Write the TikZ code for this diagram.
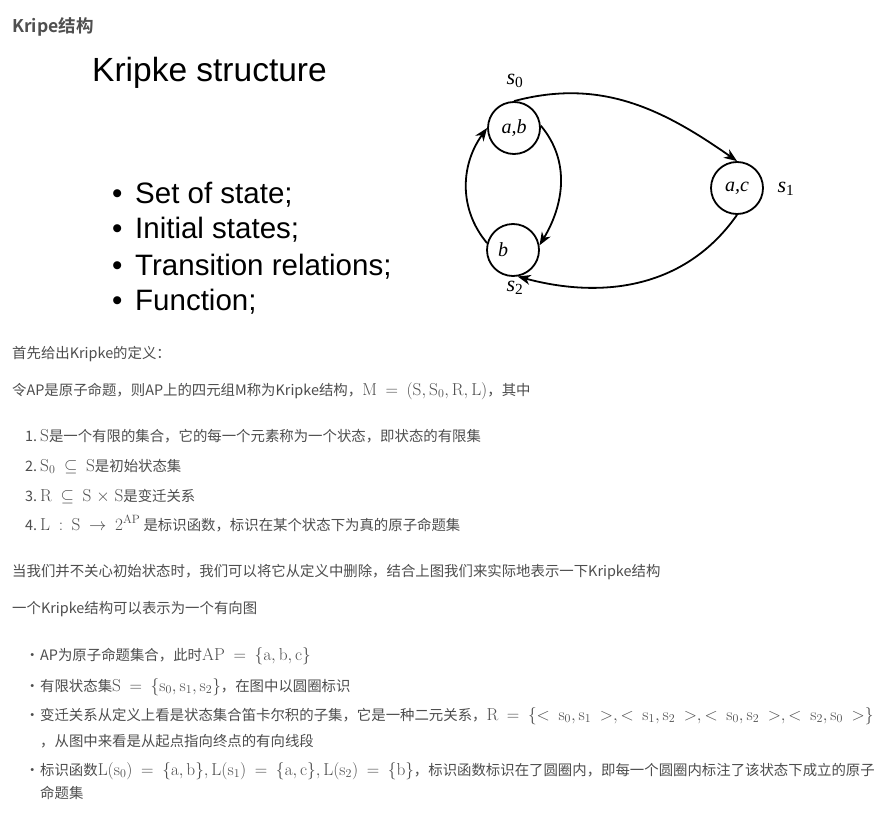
\documentclass[tikz,border=0pt]{standalone}
\usepackage[no-math]{fontspec}
\setmainfont{Noto Sans CJK SC}[BoldFont={Noto Sans CJK SC Bold}]
\newfontfamily\slidefont{Liberation Sans}
\newfontfamily\figfont{Liberation Serif}
\usetikzlibrary{arrows.meta}
\definecolor{bodytext}{HTML}{4D4D4D}
\definecolor{headtext}{HTML}{4F4F4F}
\newcommand\mth[1]{{\fontsize{16.5}{17}\selectfont\thickmuskip=9mu\medmuskip=5mu$\mathrm{#1}$}}

\begin{document}
\begin{tikzpicture}[
  x=1pt, y=1pt,
  state/.style={circle, draw, line width=1.8pt, minimum size=52pt, inner sep=0pt,
                font=\figfont\itshape\fontsize{20}{20}\selectfont},
  slabel/.style={inner sep=0pt, font=\figfont\fontsize{22}{22}\selectfont},
  trans/.style={-{Stealth[length=13pt, width=10pt, inset=4pt]}, line width=1.8pt},
  heading/.style={anchor=base west, inner sep=0pt, text=headtext,
                  font=\bfseries\fontsize{17.5}{18}\selectfont},
  slidetitle/.style={anchor=base west, inner sep=0pt, font=\slidefont\fontsize{33.5}{34}\selectfont},
  slideitem/.style={anchor=base west, inner sep=0pt, font=\slidefont\fontsize{29.5}{30}\selectfont},
  body/.style={anchor=base west, inner sep=0pt, text=bodytext, font=\fontsize{14.4}{14}\selectfont},
]
\useasboundingbox[fill=white] (0,0) rectangle (885,-813);

% slide part
\node[heading] (head) at (12,-33) {Kripe结构};
\node[slidetitle] (title) at (92,-82) {Kripke structure};
\node[slideitem] (item1) at (112,-203) {\makebox[23pt][l]{•}Set of state;};
\node[slideitem] (item2) at (112,-238) {\makebox[23pt][l]{•}Initial states;};
\node[slideitem] (item3) at (112,-275) {\makebox[23pt][l]{•}Transition relations;};
\node[slideitem] (item4) at (112,-310) {\makebox[23pt][l]{•}Function;};

% the Kripke structure
\node[state] (s0) at (514,-128) {a,b};
\node[state] (s1) at (737,-188) {a,c};
\node[state, text width=30pt, align=left] (s2) at (513,-250) {b};
\node[slabel] (l0) at (515,-81) {\textit{s}\textsubscript{0}};
\node[slabel] (l1) at (786,-189) {\textit{s}\textsubscript{1}};
\node[slabel] (l2) at (515,-288) {\textit{s}\textsubscript{2}};
\draw[trans] (s0.north) to[out=15, in=145] (s1.north);
\draw[trans] (s1.south) to[out=-125, in=-15] (s2.-80);
\draw[trans] (s0.5) to[out=-50, in=59] (s2.10);
\draw[trans] (s2.165) to[out=130, in=-126] (s0.west);

% text below
\node[body] (def) at (12,-358) {首先给出Kripke的定义：};
\node[body] (quad) at (12,-395) {令AP是原子命题，则AP上的四元组M称为Kripke结构，\mth{M=(S,S_0,R,L)}，其中};
\node[body] (n1) at (25,-441) {\makebox[15pt][l]{1.}\mth{S}是一个有限的集合，它的每一个元素称为一个状态，即状态的有限集};
\node[body] (n2) at (25,-471) {\makebox[15pt][l]{2.}\mth{S_0\subseteq S}是初始状态集};
\node[body] (n3) at (25,-501) {\makebox[15pt][l]{3.}\mth{R\subseteq S\times S}是变迁关系};
\node[body] (n4) at (25,-530) {\makebox[15pt][l]{4.}\mth{L:S\rightarrow 2^{AP}} 是标识函数，标识在某个状态下为真的原子命题集};
\node[body] (drop) at (12,-576) {当我们并不关心初始状态时，我们可以将它从定义中删除，结合上图我们来实际地表示一下Kripke结构};
\node[body] (graph) at (12,-613) {一个Kripke结构可以表示为一个有向图};
\node[body] (b1) at (25,-660) {\makebox[15pt][l]{•}AP为原子命题集合，此时\mth{AP=\{a,b,c\}}};
\node[body] (b2) at (25,-691) {\makebox[15pt][l]{•}有限状态集\mth{S=\{s_0,s_1,s_2\}}，在图中以圆圈标识};
\node[body] (b3) at (25,-720) {\makebox[15pt][l]{•}变迁关系从定义上看是状态集合笛卡尔积的子集，它是一种二元关系，\mth{R=\{<s_0,s_1>,<s_1,s_2>,<s_0,s_2>,<s_2,s_0>\}}};
\node[body] (b3x) at (40,-746) {，从图中来看是从起点指向终点的有向线段};
\node[body] (b4) at (25,-775) {\makebox[15pt][l]{•}标识函数\mth{L(s_0)=\{a,b\},L(s_1)=\{a,c\},L(s_2)=\{b\}}，标识函数标识在了圆圈内，即每一个圆圈内标注了该状态下成立的原子};
\node[body] (b4x) at (40,-798) {命题集};
\end{tikzpicture}
\end{document}
